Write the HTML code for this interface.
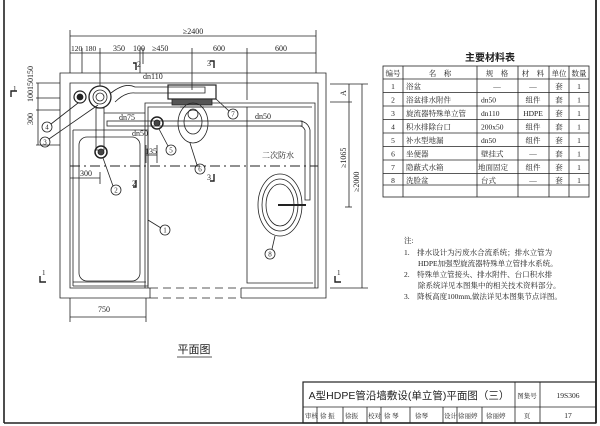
<!DOCTYPE html>
<html><head><meta charset="utf-8"><style>
html,body{margin:0;padding:0;background:#fff}
svg{display:block}
text{font-family:"Liberation Serif","Noto Serif CJK SC",serif;fill:#222}
.s{font-family:"Liberation Sans","Noto Sans CJK SC",sans-serif}
</style></head><body>
<svg width="600" height="426" viewBox="0 0 600 426" xmlns="http://www.w3.org/2000/svg">
<g fill="none" stroke="#222" stroke-width="0.8">
<line x1="4" y1="0" x2="4" y2="423" stroke-width="1.6"/>
<line x1="596" y1="0" x2="596" y2="423" stroke-width="1.8"/>
<line x1="4" y1="423" x2="596" y2="423" stroke-width="1.4"/>
<polyline points="150,298 60,298 60,73 326,73 326,298 241,298"/>
<polyline points="150,288 70,288 70,83 318,83 318,288 241,288"/>
<line x1="150" y1="288" x2="150" y2="298"/><line x1="241" y1="288" x2="241" y2="298"/>
<line x1="150" y1="288" x2="241" y2="288" stroke-dasharray="8,5"/>
<line x1="150" y1="298" x2="241" y2="298" stroke-dasharray="8,5"/>
<polyline points="73,286 148,286 148,130 73,130"/>
<polyline points="73,282 146,282"/>
<rect x="79" y="137" width="61" height="144" rx="8"/>
<line x1="73" y1="130" x2="73" y2="286"/>
<polyline points="145,288 145,103 315,103 315,288"/>
<polyline points="148,288 148,107 312,107"/>
<polyline points="247,107 247,283 313,283"/>
<line x1="70" y1="166" x2="318" y2="166" stroke-dasharray="10,4,2,4" stroke-width="1"/>
<circle cx="100" cy="97" r="11" stroke-width="1.3"/><circle cx="100" cy="97" r="7"/><circle cx="100" cy="97" r="4"/>
<circle cx="80" cy="97" r="6" stroke-width="1.2"/><circle cx="80" cy="97" r="3" fill="#222"/>
<path d="M111,93 Q125,82 135,87 L205,87 L205,93 L135,93 Q125,92 115,102"/>
<rect x="168" y="85" width="48" height="14" stroke-width="1.2"/>
<rect x="172" y="99" width="40" height="6" fill="#555"/>
<line x1="180" y1="107" x2="204" y2="107"/>
<ellipse cx="193" cy="123" rx="15" ry="20"/><ellipse cx="193" cy="122" rx="9" ry="12"/><circle cx="193" cy="114" r="5"/>
<rect x="96" y="108" width="8" height="42"/>
<circle cx="101" cy="152" r="6" stroke-width="1.5"/><circle cx="101" cy="152" r="3" fill="#444"/>
<rect x="107" y="121" width="195" height="5"/>
<circle cx="157" cy="123" r="6" stroke-width="1.5"/><circle cx="157" cy="123" r="3" fill="#444"/>
<path d="M300,121 Q308,122 310,130 L310,200 L305,200 L305,130 Q303,126 300,126"/>
<line x1="104" y1="113" x2="145" y2="113"/>
<ellipse cx="280" cy="205" rx="22" ry="31"/><ellipse cx="280" cy="205" rx="18" ry="26"/><ellipse cx="280" cy="205" rx="14" ry="21"/>
<line x1="278" y1="205" x2="306" y2="205" stroke-width="2"/>
<circle cx="165" cy="230" r="5"/><line x1="148" y1="220" x2="161" y2="228"/>
<circle cx="116" cy="190" r="5"/><line x1="103" y1="158" x2="113" y2="186"/>
<circle cx="45" cy="142" r="5"/><line x1="49" y1="139" x2="98" y2="105"/>
<circle cx="47" cy="127" r="5"/><line x1="51" y1="124" x2="78" y2="103"/>
<circle cx="171" cy="150" r="5"/><line x1="159" y1="129" x2="168" y2="146"/>
<circle cx="200" cy="169" r="5"/><line x1="190" y1="143" x2="197" y2="165"/>
<circle cx="233" cy="114" r="5"/><line x1="216" y1="99" x2="229" y2="111"/>
<circle cx="270" cy="254" r="5"/><line x1="275" y1="236" x2="272" y2="249"/>
<line x1="70" y1="36" x2="316" y2="36"/>
<line x1="70" y1="53" x2="316" y2="53"/>
<line x1="70" y1="30" x2="70" y2="73"/><line x1="316" y1="30" x2="316" y2="73"/>
<line x1="82" y1="48" x2="82" y2="73"/><line x1="100" y1="48" x2="100" y2="86"/>
<line x1="140" y1="48" x2="140" y2="73"/><line x1="143" y1="48" x2="143" y2="64"/>
<line x1="192" y1="48" x2="192" y2="90"/><line x1="247" y1="48" x2="247" y2="100"/>
<line x1="36" y1="83" x2="60" y2="83"/><line x1="36" y1="98" x2="60" y2="98"/>
<line x1="36" y1="110" x2="60" y2="110"/><line x1="36" y1="145" x2="60" y2="145"/>
<line x1="38" y1="83" x2="38" y2="145"/>
<line x1="70" y1="178" x2="100" y2="178"/><line x1="100" y1="172" x2="100" y2="184"/>
<line x1="146" y1="163" x2="146" y2="145"/><line x1="157" y1="163" x2="157" y2="145"/><line x1="146" y1="155" x2="157" y2="155"/>
<line x1="70" y1="317" x2="146" y2="317"/><line x1="70" y1="298" x2="70" y2="322"/><line x1="146" y1="298" x2="146" y2="322"/>
<line x1="330" y1="84" x2="368" y2="84"/><line x1="330" y1="102" x2="352" y2="102"/>
<line x1="345" y1="207" x2="352" y2="207"/><line x1="330" y1="288" x2="368" y2="288"/>
<line x1="349" y1="84" x2="349" y2="207"/><line x1="362" y1="84" x2="362" y2="288"/>
<polyline points="11,97 11,91 17,91" stroke-width="1.4"/>
<polyline points="40,276 40,282 46,282" stroke-width="1.4"/>
<polyline points="335,276 335,282 341,282" stroke-width="1.4"/>
<polyline points="133,63 136,63 136,70" stroke-width="1.4"/>
<polyline points="133,187 136,187 136,180" stroke-width="1.4"/>
<polyline points="210,61 214,61 214,68" stroke-width="1.4"/>
<polyline points="210,181 214,181 214,174" stroke-width="1.4"/>
<line x1="177" y1="357" x2="212" y2="357"/>
<rect x="383" y="66" width="206" height="131"/>
<line x1="383" y1="79" x2="589" y2="79"/>
<line x1="383" y1="92.5" x2="589" y2="92.5"/><line x1="383" y1="106" x2="589" y2="106"/>
<line x1="383" y1="119.5" x2="589" y2="119.5"/><line x1="383" y1="133" x2="589" y2="133"/>
<line x1="383" y1="146.5" x2="589" y2="146.5"/><line x1="383" y1="160" x2="589" y2="160"/>
<line x1="383" y1="173.5" x2="589" y2="173.5"/><line x1="383" y1="185" x2="589" y2="185"/>
<line x1="403" y1="66" x2="403" y2="197"/><line x1="477" y1="66" x2="477" y2="197"/>
<line x1="518" y1="66" x2="518" y2="197"/><line x1="549" y1="66" x2="549" y2="197"/><line x1="569" y1="66" x2="569" y2="197"/>
<rect x="303" y="382" width="293" height="41" stroke-width="1.2"/>
<line x1="303" y1="407" x2="596" y2="407"/>
<line x1="515" y1="382" x2="515" y2="423"/><line x1="540" y1="382" x2="540" y2="423"/>
<line x1="317" y1="407" x2="317" y2="423"/><line x1="343" y1="407" x2="343" y2="423"/>
<line x1="367" y1="407" x2="367" y2="423"/><line x1="381" y1="407" x2="381" y2="423"/>
<line x1="410" y1="407" x2="410" y2="423"/><line x1="443" y1="407" x2="443" y2="423"/>
<line x1="457" y1="407" x2="457" y2="423"/><line x1="482" y1="407" x2="482" y2="423"/>
</g>
<g font-size="8">
<text x="193" y="34" text-anchor="middle">≥2400</text>
<text x="71" y="51" font-size="7.5">120</text><text x="85" y="51" font-size="7.5">180</text><text x="113" y="51">350</text>
<text x="133" y="51">100</text><text x="152" y="51">≥450</text><text x="219" y="51" text-anchor="middle">600</text><text x="281" y="51" text-anchor="middle">600</text>
<text x="143" y="79">dn110</text><text x="119" y="120">dn75</text><text x="132" y="136">dn50</text>
<text x="255" y="119">dn50</text><text x="145" y="154">135</text><text x="80" y="176">300</text>
<text x="98" y="312">750</text>
<text x="262" y="158">二次防水</text>
<text x="137" y="67">2</text><text x="132" y="186">2</text><text x="207" y="66">3</text><text x="207" y="180">3</text>
<text x="13" y="91" font-size="7">1</text><text x="42" y="275" font-size="7">1</text><text x="337" y="275" font-size="7">1</text>
<g font-size="7" text-anchor="middle">
<text x="165" y="232.5">1</text><text x="116" y="192.5">2</text><text x="45" y="144.5">3</text><text x="47" y="129.5">4</text>
<text x="171" y="152.5">5</text><text x="200" y="171.5">6</text><text x="233" y="116.5">7</text><text x="270" y="256.5">8</text>
</g>
<text transform="translate(33,125) rotate(-90)">300</text>
<text transform="translate(33,102) rotate(-90)">100150150</text>
<text transform="translate(346,96) rotate(-90)">A</text>
<text transform="translate(346,168) rotate(-90)">≥1065</text>
<text transform="translate(359,192) rotate(-90)">≥2000</text>
</g>
<text x="194" y="353" font-size="11" text-anchor="middle" class="s">平面图</text>
<text x="490" y="61" font-size="10" text-anchor="middle" class="s" font-weight="bold">主要材料表</text>
<g font-size="7.5">
<text x="393" y="76" text-anchor="middle">编号</text><text x="440" y="76" text-anchor="middle">名　称</text>
<text x="497" y="76" text-anchor="middle">规　格</text><text x="533" y="76" text-anchor="middle">材　料</text>
<text x="559" y="76" text-anchor="middle">单位</text><text x="579" y="76" text-anchor="middle">数量</text>
<text x="393" y="89" text-anchor="middle">1</text><text x="406" y="89">浴盆</text><text x="497" y="89" text-anchor="middle">—</text><text x="533" y="89" text-anchor="middle">—</text><text x="559" y="89" text-anchor="middle">套</text><text x="579" y="89" text-anchor="middle">1</text>
<text x="393" y="102.5" text-anchor="middle">2</text><text x="406" y="102.5">浴盆排水附件</text><text x="481" y="102.5">dn50</text><text x="533" y="102.5" text-anchor="middle">组件</text><text x="559" y="102.5" text-anchor="middle">套</text><text x="579" y="102.5" text-anchor="middle">1</text>
<text x="393" y="116" text-anchor="middle">3</text><text x="406" y="116">旋流器特殊单立管</text><text x="481" y="116">dn110</text><text x="533" y="116" text-anchor="middle">HDPE</text><text x="559" y="116" text-anchor="middle">套</text><text x="579" y="116" text-anchor="middle">1</text>
<text x="393" y="129.5" text-anchor="middle">4</text><text x="406" y="129.5">积水排除台口</text><text x="481" y="129.5">200x50</text><text x="533" y="129.5" text-anchor="middle">组件</text><text x="559" y="129.5" text-anchor="middle">套</text><text x="579" y="129.5" text-anchor="middle">1</text>
<text x="393" y="143" text-anchor="middle">5</text><text x="406" y="143">补水型地漏</text><text x="481" y="143">dn50</text><text x="533" y="143" text-anchor="middle">组件</text><text x="559" y="143" text-anchor="middle">套</text><text x="579" y="143" text-anchor="middle">1</text>
<text x="393" y="156.5" text-anchor="middle">6</text><text x="406" y="156.5">坐便器</text><text x="481" y="156.5">壁挂式</text><text x="533" y="156.5" text-anchor="middle">—</text><text x="559" y="156.5" text-anchor="middle">套</text><text x="579" y="156.5" text-anchor="middle">1</text>
<text x="393" y="170" text-anchor="middle">7</text><text x="406" y="170">隐蔽式水箱</text><text x="478" y="170">地面固定</text><text x="533" y="170" text-anchor="middle">组件</text><text x="559" y="170" text-anchor="middle">套</text><text x="579" y="170" text-anchor="middle">1</text>
<text x="393" y="183" text-anchor="middle">8</text><text x="406" y="183">洗脸盆</text><text x="481" y="183">台式</text><text x="533" y="183" text-anchor="middle">—</text><text x="559" y="183" text-anchor="middle">套</text><text x="579" y="183" text-anchor="middle">1</text>
</g>
<g font-size="7.5">
<text x="404" y="243">注:</text>
<text x="404" y="255">1.　排水设计为污废水合流系统；排水立管为</text>
<text x="418" y="266">HDPE加强型旋流器特殊单立管排水系统。</text>
<text x="404" y="277">2.　特殊单立管接头、排水附件、台口积水排</text>
<text x="418" y="288">除系统详见本图集中的相关技术资料部分。</text>
<text x="404" y="299">3.　降板高度100mm,做法详见本图集节点详图。</text>
</g>
<text x="409" y="399" font-size="10.5" text-anchor="middle" class="s">A型HDPE管沿墙敷设(单立管)平面图（三）</text>
<text x="527" y="398" font-size="6.5" text-anchor="middle">图集号</text>
<text x="568" y="398" font-size="7.5" text-anchor="middle">19S306</text>
<g font-size="6.5">
<text x="305" y="418">审核</text><text x="320" y="418">徐 振</text><text x="345" y="418" fill="#777">徐振</text>
<text x="368" y="418">校对</text><text x="384" y="418">徐 琴</text><text x="415" y="418" fill="#777">徐琴</text>
<text x="444" y="418">设计</text><text x="458" y="418">徐丽婷</text><text x="486" y="418" fill="#777">徐丽婷</text>
<text x="527" y="418" text-anchor="middle">页</text><text x="568" y="418" text-anchor="middle" font-size="7.5">17</text>
</g>
</svg>
</body></html>
